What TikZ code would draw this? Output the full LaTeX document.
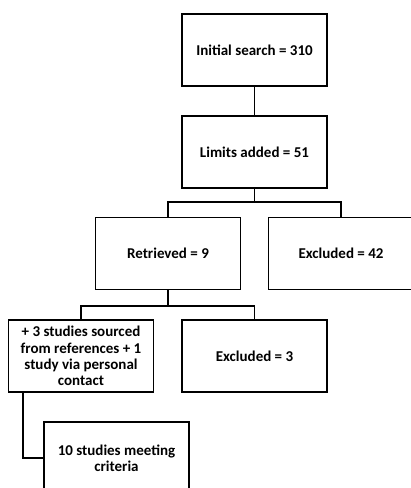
\documentclass[tikz,border=0pt]{standalone}
\usepackage{fontspec}
\setmainfont{Carlito}
\begin{document}
\begin{tikzpicture}[x=1pt,y=-1pt,
  box/.style={draw=black,line width=1.9pt,minimum width=145pt,minimum height=72pt,
    inner sep=2pt,align=center,font=\fontsize{15pt}{16.3pt}\selectfont\bfseries},
  conn/.style={draw=black,line width=1.9pt}]
\useasboundingbox (0,0) rectangle (411,488);
\clip (0,0) rectangle (411,488);
\node[box] (b1) at (254.5,50) {Initial search = 310};
\node[box] (b2) at (254.5,152) {Limits added = 51};
\node[box] (ret) at (168,253.5) {Retrieved = 9};
\node[box] (ex42) at (341,253.5) {Excluded = 42};
\node[box] (plus) at (81,356) {+ 3 studies sourced\\from references + 1\\study via personal\\contact};
\node[box] (ex3) at (254.5,356) {Excluded = 3};
\node[box] (ten) at (116.5,458) {10 studies meeting\\criteria};
\coordinate (f1) at (254.5,202);
\coordinate (f2) at (168,306);
\coordinate (f3) at ([xshift=15pt]plus.south west);
\draw[conn] (b1.south) -- (b2.north);
\draw[conn] (b2.south) -- (f1);
\draw[conn] (ret.north) |- (f1) -| (ex42.north);
\draw[conn] (ret.south) -- (f2);
\draw[conn] (plus.north) |- (f2) -| (ex3.north);
\draw[conn] (f3) |- (ten.west);
\end{tikzpicture}
\end{document}
